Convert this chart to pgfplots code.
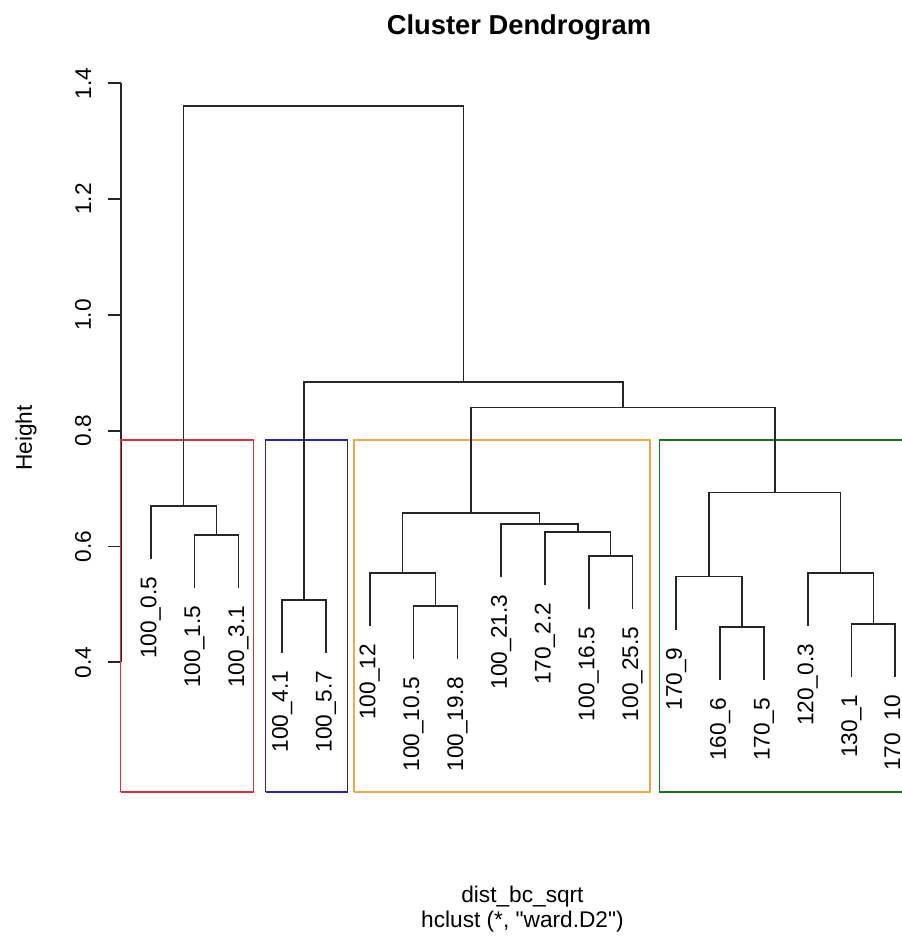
\documentclass[border=0pt]{standalone}
\usepackage{fontspec}
\setmainfont{Liberation Sans}[Ligatures=TeXOff]
\usepackage{pgfplots}
\pgfplotsset{compat=1.18}
\definecolor{cred}{RGB}{215,50,65}
\definecolor{cblue}{RGB}{40,40,150}
\definecolor{corange}{RGB}{230,170,80}
\definecolor{cgreen}{RGB}{30,115,30}
\begin{document}
\begin{tikzpicture}[
  lbl/.style={rotate=90, anchor=east, inner xsep=13pt, inner ysep=0pt, font=\fontsize{17}{20}\selectfont},
  dend/.style={black!85, line width=1.25pt},
]
\path[use as bounding box, clip] (0,0) rectangle (676.5pt,708.75pt);
\begin{axis}[
  at={(90.75pt,114pt)}, anchor=south west,
  scale only axis, width=585.75pt, height=535.5pt,
  xmin=0.32, xmax=18.153, ymin=0.1743, ymax=1.4074,
  clip=false,
  axis x line=none, axis y line*=left,
  y axis line style={draw=none},
  ytick={0.4,0.6,0.8,1.0,1.2,1.4},
  tick align=outside, major tick length=9.75pt,
  tick style={black!85, line width=1.25pt},
  yticklabel style={rotate=90, anchor=south, inner xsep=0pt, inner ysep=12.5pt, font=\fontsize{17}{20}\selectfont},
  /pgf/number format/.cd, fixed, fixed zerofill, precision=1, assume math mode=true,
  /pgfplots/.cd,
]
% y axis line
\addplot[black!85, line width=1.25pt] coordinates {(0.32,0.4) (0.32,1.4)};
% cluster boxes
\addplot[cred, line width=1.1pt] coordinates {(0.313,0.176) (0.313,0.784) (3.34,0.784) (3.34,0.176) (0.313,0.176)};
\addplot[cblue, line width=1.1pt] coordinates {(3.624,0.176) (3.624,0.784) (5.496,0.784) (5.496,0.176) (3.624,0.176)};
\addplot[corange, line width=1.1pt] coordinates {(5.64,0.176) (5.64,0.784) (12.40,0.784) (12.40,0.176) (5.64,0.176)};
\addplot[cgreen, line width=1.1pt] coordinates {(12.61,0.176) (12.61,0.784) (18.33,0.784) (18.33,0.176) (12.61,0.176)};
% dendrogram
\addplot[dend] coordinates {(2,0.528) (2,0.620) (3,0.620) (3,0.528)};
\addplot[dend] coordinates {(1,0.578) (1,0.670) (2.5,0.670) (2.5,0.620)};
\addplot[dend] coordinates {(4,0.416) (4,0.508) (5,0.508) (5,0.416)};
\addplot[dend] coordinates {(7,0.405) (7,0.497) (8,0.497) (8,0.405)};
\addplot[dend] coordinates {(6,0.462) (6,0.554) (7.5,0.554) (7.5,0.497)};
\addplot[dend] coordinates {(11,0.492) (11,0.584) (12,0.584) (12,0.492)};
\addplot[dend] coordinates {(10,0.533) (10,0.625) (11.5,0.625) (11.5,0.584)};
\addplot[dend] coordinates {(9,0.547) (9,0.639) (10.75,0.639) (10.75,0.625)};
\addplot[dend] coordinates {(6.75,0.554) (6.75,0.658) (9.875,0.658) (9.875,0.639)};
\addplot[dend] coordinates {(14,0.369) (14,0.461) (15,0.461) (15,0.369)};
\addplot[dend] coordinates {(13,0.456) (13,0.548) (14.5,0.548) (14.5,0.461)};
\addplot[dend] coordinates {(17,0.374) (17,0.466) (18,0.466) (18,0.374)};
\addplot[dend] coordinates {(16,0.462) (16,0.554) (17.5,0.554) (17.5,0.466)};
\addplot[dend] coordinates {(13.75,0.548) (13.75,0.693) (16.75,0.693) (16.75,0.554)};
\addplot[dend] coordinates {(8.3125,0.658) (8.3125,0.840) (15.25,0.840) (15.25,0.693)};
\addplot[dend] coordinates {(4.5,0.508) (4.5,0.884) (11.78125,0.884) (11.78125,0.840)};
\addplot[dend] coordinates {(1.75,0.670) (1.75,1.361) (8.140625,1.361) (8.140625,0.884)};
% leaf labels
\node[lbl] at (axis cs:1,0.578) {100\_0.5};
\node[lbl] at (axis cs:2,0.528) {100\_1.5};
\node[lbl] at (axis cs:3,0.528) {100\_3.1};
\node[lbl] at (axis cs:4,0.416) {100\_4.1};
\node[lbl] at (axis cs:5,0.416) {100\_5.7};
\node[lbl] at (axis cs:6,0.462) {100\_12};
\node[lbl] at (axis cs:7,0.405) {100\_10.5};
\node[lbl] at (axis cs:8,0.405) {100\_19.8};
\node[lbl] at (axis cs:9,0.547) {100\_21.3};
\node[lbl] at (axis cs:10,0.533) {170\_2.2};
\node[lbl] at (axis cs:11,0.492) {100\_16.5};
\node[lbl] at (axis cs:12,0.492) {100\_25.5};
\node[lbl] at (axis cs:13,0.456) {170\_9};
\node[lbl] at (axis cs:14,0.369) {160\_6};
\node[lbl] at (axis cs:15,0.369) {170\_5};
\node[lbl] at (axis cs:16,0.462) {120\_0.3};
\node[lbl] at (axis cs:17,0.374) {130\_1};
\node[lbl] at (axis cs:17.98,0.374) {170\_10};
% titles
\node[anchor=base, font=\bfseries\fontsize{20.5}{24}\selectfont] at (axis description cs:0.5096,1.063) {Cluster Dendrogram};
\node[anchor=base, rotate=90, font=\fontsize{17}{20}\selectfont] at (axis description cs:-0.114,0.497) {Height};
\node[anchor=base, font=\fontsize{17}{20}\selectfont] at (axis description cs:0.514,-0.1527) {dist\_bc\_sqrt};
\node[anchor=base, font=\fontsize{17}{20}\selectfont] at (axis description cs:0.514,-0.189) {hclust (*, "ward.D2")};
\end{axis}
\end{tikzpicture}
\end{document}
